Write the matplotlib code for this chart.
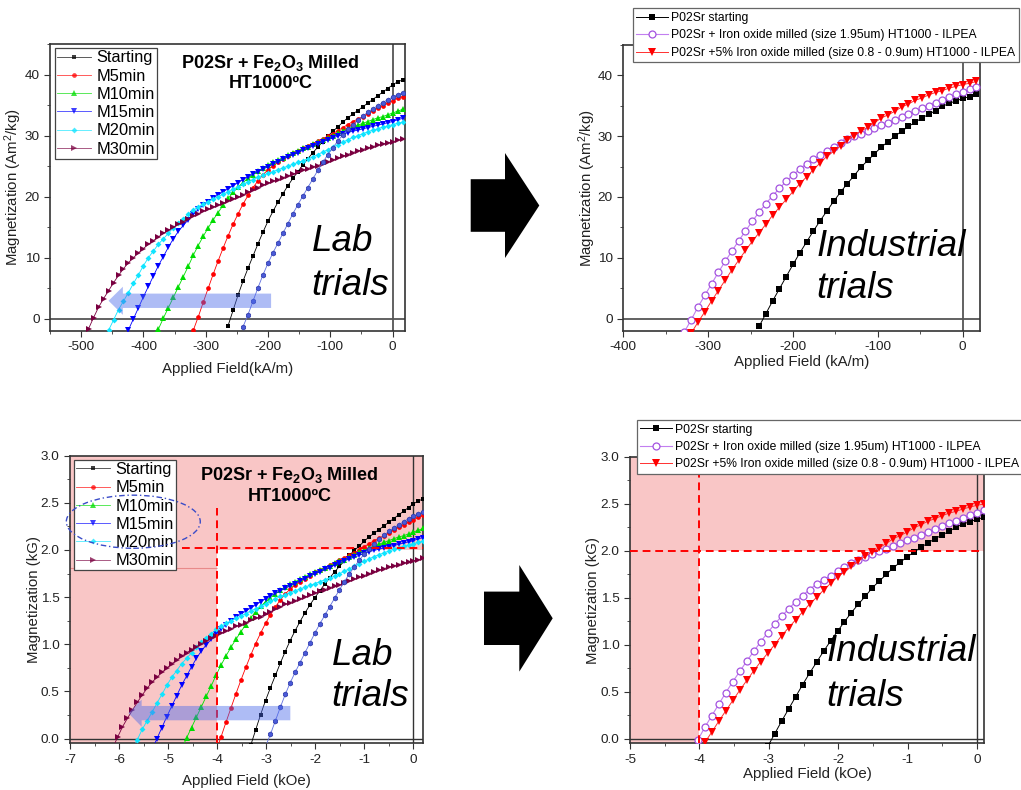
import matplotlib
matplotlib.use("Agg")
import numpy as np
import matplotlib.pyplot as plt
from matplotlib.patches import Polygon, Ellipse, FancyArrow
from matplotlib.ticker import MultipleLocator, FormatStrFormatter

plt.rcParams["font.family"] = ["Liberation Sans", "DejaVu Sans"]
plt.rcParams["mathtext.fontset"] = "custom"
plt.rcParams["mathtext.rm"] = "Liberation Sans"
plt.rcParams["mathtext.bf"] = "Liberation Sans:bold"
plt.rcParams["mathtext.it"] = "Liberation Sans:italic"
plt.rcParams["axes.unicode_minus"] = False

# applied field grid of the measurements (kA/m), shared by every curve
H_KAM = [-488, -480, -472, -464, -456, -448, -440, -432, -424, -416, -408, -400,
         -392, -384, -376, -368, -360, -352, -344, -336, -328, -320, -312, -304,
         -296, -288, -280, -272, -264, -256, -248, -240, -232, -224, -216, -208,
         -200, -192, -184, -176, -168, -160, -152, -144, -136, -128, -120, -112,
         -104, -96, -88, -80, -72, -64, -56, -48, -40, -32, -24, -16, -8, 0, 8, 16]

# lab trials, magnetization in Am2/kg (each list ends at H = 16)
LAB_LABELS = ["Starting", "M5min", "M10min", "M15min", "M20min", "M30min"]
lab_starting = [-1.1, 1.4, 3.9, 6.2, 8.3, 10.3, 12.3, 14.2, 16.0, 17.6, 19.1, 20.5,
                21.8, 23.0, 24.1, 25.2, 26.2, 27.2, 28.1, 29.0, 29.9, 30.7, 31.4, 32.2,
                32.9, 33.5, 34.1, 34.7, 35.3, 35.9, 36.5, 37.1, 37.7, 38.3, 38.8, 39.1]
lab_m5 = [-1.9, 0.3, 2.7, 5.0, 7.3, 9.5, 11.6, 13.6, 15.5, 17.2, 18.8, 20.2, 21.5,
          22.6, 23.6, 24.4, 25.0, 25.6, 26.1, 26.6, 27.1, 27.5, 27.9, 28.3, 28.7,
          29.1, 29.5, 29.9, 30.3, 30.8, 31.3, 31.8, 32.3, 32.7, 33.1, 33.6, 34.0,
          34.5, 34.9, 35.3, 35.7, 36.1, 36.4]
lab_m10 = [-1.7, 0.1, 1.8, 3.5, 5.2, 6.9, 8.6, 10.4, 12.0, 13.5, 14.9, 16.2, 17.4,
           18.6, 19.7, 20.7, 21.6, 22.3, 23.0, 23.6, 24.2, 24.7, 25.2, 25.6, 26.0,
           26.4, 26.8, 27.2, 27.5, 27.9, 28.2, 28.6, 28.9, 29.2, 29.6, 30.0, 30.4,
           30.8, 31.1, 31.4, 31.7, 32.0, 32.3, 32.6, 32.9, 33.1, 33.4, 33.7, 34.0, 34.3]
lab_m15 = [-1.8, 0.0, 1.8, 3.6, 5.3, 7.0, 8.7, 10.2, 11.7, 13.1, 14.3, 15.3, 16.2,
           17.1, 17.9, 18.6, 19.2, 19.8, 20.3, 20.8, 21.3, 21.8, 22.3, 22.8, 23.3,
           23.7, 24.1, 24.5, 24.9, 25.3, 25.7, 26.1, 26.5, 26.9, 27.2, 27.6, 27.9,
           28.3, 28.6, 29.0, 29.3, 29.6, 29.9, 30.2, 30.5, 30.7, 30.9, 31.1, 31.3,
           31.5, 31.7, 31.9, 32.1, 32.3, 32.6, 32.8]
lab_m20 = [-1.9, -0.2, 1.5, 2.9, 4.3, 5.8, 7.2, 8.7, 10.0, 11.1, 12.2, 13.1, 14.0,
           14.9, 15.7, 16.4, 17.1, 17.8, 18.3, 18.8, 19.2, 19.6, 20.0, 20.4, 20.8,
           21.2, 21.6, 22.0, 22.4, 22.8, 23.2, 23.5, 23.8, 24.1, 24.4, 24.7, 25.0,
           25.3, 25.6, 25.9, 26.2, 26.5, 26.9, 27.3, 27.7, 28.1, 28.5, 28.9, 29.3,
           29.7, 30.0, 30.3, 30.6, 30.9, 31.1, 31.4, 31.6, 31.8, 32.0, 32.2]
lab_m30 = [-1.6, 0.2, 1.9, 3.3, 4.6, 5.9, 7.1, 8.2, 9.2, 10.0, 10.8, 11.5, 12.2,
           12.8, 13.4, 14.0, 14.5, 15.0, 15.5, 15.9, 16.4, 16.8, 17.2, 17.6, 17.9,
           18.3, 18.6, 18.9, 19.3, 19.6, 19.9, 20.3, 20.7, 21.1, 21.5, 21.9, 22.2,
           22.5, 22.8, 23.1, 23.4, 23.7, 24.0, 24.3, 24.6, 24.9, 25.1, 25.4, 25.7,
           26.0, 26.3, 26.6, 26.9, 27.2, 27.5, 27.7, 28.0, 28.2, 28.4, 28.6, 28.8,
           29.0, 29.2, 29.4]
lab_extra = [-1.3, 0.7, 2.9, 5.1, 7.2, 9.1, 10.8, 12.4, 14.0, 15.6, 17.2, 18.7, 20.1,
             21.5, 22.9, 24.3, 25.6, 26.9, 28.0, 29.1, 30.1, 31.0, 31.8, 32.5, 33.2,
             33.8, 34.4, 34.9, 35.4, 35.9, 36.3, 36.7, 37.0]

# industrial trials, Am2/kg
IND_LABELS = ["P02Sr starting",
              "P02Sr + Iron oxide milled (size 1.95um) HT1000 - ILPEA",
              "P02Sr +5% Iron oxide milled (size 0.8 - 0.9um) HT1000 - ILPEA"]
ind_starting = [-1.3, 0.8, 2.9, 4.9, 6.9, 8.9, 10.8, 12.6, 14.4, 16.1, 17.7, 19.3,
                20.8, 22.2, 23.5, 24.9, 26.0, 27.1, 28.2, 29.1, 30.0, 30.8, 31.6,
                32.3, 33.0, 33.6, 34.2, 34.9, 35.4, 35.8, 36.2, 36.5, 36.9]
ind_coarse = [-2.2, -0.2, 1.9, 3.8, 5.7, 7.6, 9.4, 11.1, 12.8, 14.4, 16.0, 17.5,
              18.9, 20.2, 21.4, 22.6, 23.6, 24.6, 25.5, 26.2, 26.9, 27.6, 28.3,
              28.9, 29.5, 30.0, 30.4, 30.9, 31.3, 31.8, 32.2, 32.7, 33.1, 33.6,
              34.1, 34.6, 35.0, 35.5, 35.9, 36.4, 36.9, 37.3, 37.7, 38.1]
ind_fine = [-2.4, -0.6, 1.1, 2.9, 4.6, 6.3, 8.0, 9.6, 11.2, 12.7, 14.1, 15.5, 17.0,
            18.3, 19.6, 20.9, 22.2, 23.3, 24.5, 25.6, 26.7, 27.5, 28.4, 29.3, 30.1,
            30.8, 31.5, 32.2, 33.0, 33.5, 34.1, 34.8, 35.3, 35.9, 36.3, 36.8, 37.2,
            37.5, 37.9, 38.2, 38.5, 38.7, 39.0]

# unit conversions used for the lower (kOe / kG) panels
KAM_PER_KOE = 79.58
KG_PER_UNIT_LAB = 0.065
KG_PER_UNIT_IND = 0.0645
LIMIT_H_KOE = -4.0
LIMIT_B_KG = 2.0

PINK = "#f9c6c6"
W, HP = 1021, 790

fig = plt.figure(figsize=(W / 100, HP / 100), dpi=100)


def px_axes(left, top, right, bottom):
    return fig.add_axes([left / W, 1 - bottom / HP, (right - left) / W, (bottom - top) / HP])


def style_axes(ax, xmaj, xmin, ymaj, ymin, xlabel, ylabel, xlab_y, ylab_x):
    for s in ax.spines.values():
        s.set_color("#333333")
        s.set_linewidth(1.2)
    ax.xaxis.set_major_locator(MultipleLocator(xmaj))
    ax.xaxis.set_minor_locator(MultipleLocator(xmin))
    ax.yaxis.set_major_locator(MultipleLocator(ymaj))
    ax.yaxis.set_minor_locator(MultipleLocator(ymin))
    ax.tick_params(which="both", direction="out", color="#333333", labelsize=9.7,
                   labelcolor="#222222")
    ax.tick_params(which="major", length=4)
    ax.tick_params(which="minor", length=2)
    ax.set_xlabel(xlabel, fontsize=10.8, color="#222222")
    ax.set_ylabel(ylabel, fontsize=10.8, color="#222222")
    ax.xaxis.set_label_coords(0.5, xlab_y)
    ax.yaxis.set_label_coords(ylab_x, 0.5)


def tail(values):
    return np.array(H_KAM[-len(values):], dtype=float), np.array(values, dtype=float)


lab_series = [lab_starting, lab_m5, lab_m10, lab_m15, lab_m20, lab_m30]
lab_styles = [("#000000", "s", 3.2), ("#ff0000", "o", 3.4), ("#00dd00", "^", 3.8),
              ("#0000ff", "v", 3.8), ("#10e4ff", "D", 3.0), ("#7a0040", ">", 3.8)]
extra_style = ("#3040c0", "h", 3.6)


def draw_lab(ax, xs, ys):
    for vals, lab, (c, m, ms) in zip(lab_series, LAB_LABELS, lab_styles):
        x, y = tail(vals)
        ax.plot(x * xs, y * ys, color=c, lw=0.6, marker=m, ms=ms, mew=0,
                label=lab, zorder=3)
    x, y = tail(lab_extra)
    c, m, ms = extra_style
    ax.plot(x * xs, y * ys, color="#6070e0", lw=0.6, marker=m, ms=ms,
            mfc="#4a5ad8", mec="#2a36a8", mew=0.5, zorder=3)


def draw_ind(ax, xs, ys):
    handles = []
    x, y = tail(ind_starting)
    handles.append(ax.plot(x * xs, y * ys, color="#000000", lw=0.7, marker="s",
                           ms=4.8, mew=0, zorder=3)[0])
    x, y = tail(ind_coarse)
    handles.append(ax.plot(x * xs, y * ys, color="#c27ff0", lw=0.8, marker="o",
                           ms=5.0, mfc="white", mec="#a452e0", mew=0.9, zorder=3)[0])
    x, y = tail(ind_fine)
    handles.append(ax.plot(x * xs, y * ys, color="#ff3030", lw=0.7, marker="v",
                           ms=5.6, mfc="#ff0000", mec="#ff0000", mew=0, zorder=4)[0])
    return handles


def lab_legend(ax, anchor):
    leg = ax.legend(loc="upper left", bbox_to_anchor=anchor, fontsize=11.8,
                    handlelength=2.1, handletextpad=0.3, labelspacing=0.2,
                    borderpad=0.12, borderaxespad=0, numpoints=1, fancybox=False,
                    framealpha=1, edgecolor="#444444")
    leg.get_frame().set_linewidth(0.9)
    for h in leg.legend_handles:
        h.set_alpha(0.75)
    return leg


def ind_legend(handles, anchor):
    leg = fig.legend(handles, IND_LABELS, loc="upper left", bbox_to_anchor=anchor,
                     fontsize=8.7, handlelength=2.6, handletextpad=0.25,
                     labelspacing=0.45, borderpad=0.3, borderaxespad=0,
                     numpoints=1, fancybox=False, framealpha=1, edgecolor="#666666")
    leg.get_frame().set_linewidth(0.9)
    return leg


def block_arrow(x0, xh, x1, yc, shaft, head):
    pts = [(x0, yc - shaft), (xh, yc - shaft), (xh, yc - head), (x1, yc),
           (xh, yc + head), (xh, yc + shaft), (x0, yc + shaft)]
    pts = [(px / W, 1 - py / HP) for px, py in pts]
    fig.patches.append(Polygon(pts, closed=True, transform=fig.transFigure,
                               facecolor="black", edgecolor="none"))


def big_text(ax, x, y1, y2, word, size):
    ax.text(x, y1, word, transform=ax.transAxes, fontsize=size, style="italic",
            ha="left", va="center", zorder=7)
    ax.text(x, y2, "trials", transform=ax.transAxes, fontsize=size, style="italic",
            ha="left", va="center", zorder=7)


def title_text(ax, y1, y2):
    ax.text(0.622, y1, r"P02Sr + Fe$_\mathbf{2}$O$_\mathbf{3}$ Milled",
            transform=ax.transAxes, fontsize=13, fontweight="bold", ha="center",
            va="center", zorder=7)
    ax.text(0.622, y2, "HT1000ºC", transform=ax.transAxes, fontsize=13,
            fontweight="bold", ha="center", va="center", zorder=7)


arrow_blue = (0.30, 0.42, 0.92)

# ---- top left: lab trials, SI units
ax1 = px_axes(50, 44, 405, 331)
draw_lab(ax1, 1.0, 1.0)
ax1.axhline(0, color="#555555", lw=1.3, zorder=2)
ax1.axvline(0, color="#555555", lw=1.3, zorder=2)
ax1.set_xlim(-550, 20)
ax1.set_ylim(-2, 45)
style_axes(ax1, 100, 50, 10, 5, "Applied Field(kA/m)", r"Magnetization (Am$^2$/kg)",
           -0.107, -0.072)
lab_legend(ax1, (0.014, 0.985))
title_text(ax1, 0.933, 0.861)
big_text(ax1, 0.737, 0.311, 0.160, "Lab", 26.5)
ax1.add_patch(FancyArrow(-195, 2.95, -261, 0, width=2.35, head_width=4.6,
                         head_length=23, length_includes_head=True,
                         color=arrow_blue, alpha=0.45, lw=0, zorder=6))

# ---- top right: industrial trials, SI units
ax2 = px_axes(623.3, 45, 979.7, 330.7)
h_ind = draw_ind(ax2, 1.0, 1.0)
ax2.axhline(0, color="#555555", lw=1.3, zorder=2)
ax2.axvline(0, color="#555555", lw=1.3, zorder=2)
ax2.set_xlim(-400, 20)
ax2.set_ylim(-2, 45)
style_axes(ax2, 100, 50, 10, 5, "Applied Field (kA/m)", r"Magnetization (Am$^2$/kg)",
           -0.085, -0.072)
ind_legend(h_ind, (632.7 / W, 1 - 8.3 / HP))
big_text(ax2, 0.543, 0.294, 0.149, "Industrial", 26.5)

# ---- bottom left: lab trials, CGS units
ax3 = px_axes(70, 455.7, 423.3, 743.3)
ax3.axvspan(-7, LIMIT_H_KOE, color=PINK, lw=0, zorder=0)
ax3.axhspan(LIMIT_B_KG, 3.0, color=PINK, lw=0, zorder=0)
draw_lab(ax3, 1 / KAM_PER_KOE, KG_PER_UNIT_LAB)
ax3.axhline(0, color="#333333", lw=1.0, zorder=2)
ax3.axvline(0, color="#333333", lw=1.0, zorder=2)
ax3.vlines(LIMIT_H_KOE, -0.05, 2.45, color="#ff0000", lw=1.4, ls=(0, (4, 2.5)), zorder=4)
ax3.hlines(LIMIT_B_KG + 0.02, -4.72, 0.2, color="#ff0000", lw=1.4, ls=(0, (4, 2.5)), zorder=4)
ax3.hlines(1.81, -7, LIMIT_H_KOE, color="#e88a8a", lw=0.8, zorder=1)
ax3.set_xlim(-7, 0.2)
ax3.set_ylim(-0.05, 3.0)
style_axes(ax3, 1, 0.5, 0.5, 0.25, "Applied Field (kOe)", "Magnetization (kG)",
           -0.108, -0.082)
ax3.yaxis.set_major_formatter(FormatStrFormatter("%.1f"))
lab_legend(ax3, (0.011, 0.985))
title_text(ax3, 0.933, 0.857)
big_text(ax3, 0.741, 0.307, 0.162, "Lab", 26.5)
ax3.add_patch(FancyArrow(-2.51, 0.27, -3.30, 0, width=0.152, head_width=0.287,
                         head_length=0.27, length_includes_head=True,
                         color=arrow_blue, alpha=0.45, lw=0, zorder=6))
ax3.add_patch(Ellipse((-5.71, 2.30), 2.73, 0.563, fill=False, edgecolor="#3a4cc8",
                      lw=1.0, ls=(0, (4, 2, 1, 2)), clip_on=False, zorder=8))

# ---- bottom right: industrial trials, CGS units
ax4 = px_axes(630, 456.7, 984, 743.3)
ax4.axvspan(-5, LIMIT_H_KOE, color=PINK, lw=0, zorder=0)
ax4.axhspan(LIMIT_B_KG, 3.0, color=PINK, lw=0, zorder=0)
h_ind4 = draw_ind(ax4, 1 / KAM_PER_KOE, KG_PER_UNIT_IND)
ax4.axhline(0, color="#333333", lw=1.0, zorder=2)
ax4.axvline(0, color="#333333", lw=1.0, zorder=2)
ax4.axvline(LIMIT_H_KOE, color="#ff0000", lw=1.4, ls=(0, (4, 2.5)), zorder=4)
ax4.axhline(LIMIT_B_KG, color="#ff0000", lw=1.4, ls=(0, (4, 2.5)), zorder=4)
ax4.set_xlim(-5, 0.1)
ax4.set_ylim(-0.05, 3.0)
style_axes(ax4, 1, 0.5, 0.5, 0.25, "Applied Field (kOe)", "Magnetization (kG)",
           -0.084, -0.084)
ax4.yaxis.set_major_formatter(FormatStrFormatter("%.1f"))
ind_legend(h_ind4, (636.5 / W, 1 - 420 / HP))
big_text(ax4, 0.554, 0.320, 0.163, "Industrial", 26.5)

# big black arrows between the panels
block_arrow(470.7, 505, 539.3, 205.5, 26.3, 52.5)
block_arrow(484, 519.3, 552.7, 618.3, 26.7, 53.3)

fig.savefig("out.png", dpi=100)
